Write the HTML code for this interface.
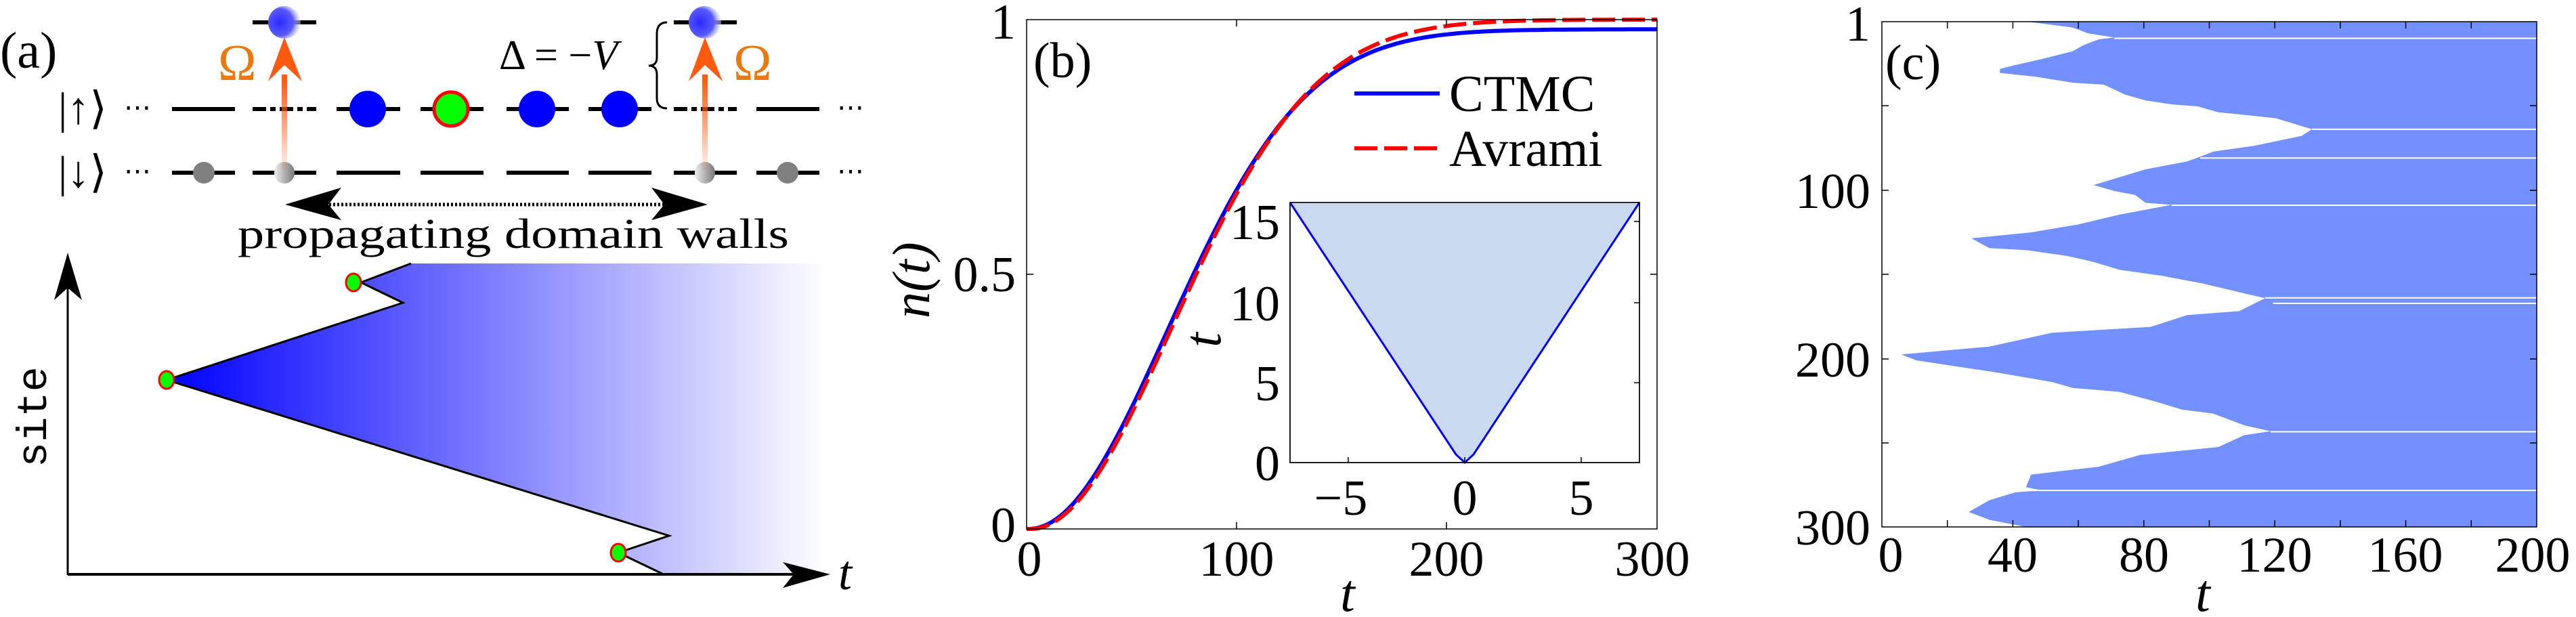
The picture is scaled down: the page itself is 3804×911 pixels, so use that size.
<!DOCTYPE html>
<html><head><meta charset="utf-8"><style>
html,body{margin:0;padding:0;background:#fff;}
svg{display:block;}
</style></head><body>
<svg id="s" width="3804" height="911" viewBox="0 0 3804 911" xmlns="http://www.w3.org/2000/svg" font-family="Liberation Serif, DejaVu Serif, serif">
<defs>
<linearGradient id="gb" x1="246" y1="0" x2="1222" y2="0" gradientUnits="userSpaceOnUse">
<stop offset="0" stop-color="#0000ff"/><stop offset="1" stop-color="#ffffff"/></linearGradient>
<linearGradient id="go" x1="0" y1="118" x2="0" y2="245" gradientUnits="userSpaceOnUse">
<stop offset="0" stop-color="#ff5a10"/><stop offset="1" stop-color="#ff5a10" stop-opacity="0.1"/></linearGradient>
<radialGradient id="gc" cx="0.35" cy="0.5" r="0.7"><stop offset="0" stop-color="#2a2aff"/><stop offset="0.6" stop-color="#5a5aff"/><stop offset="1" stop-color="#ffffff" stop-opacity="0.3"/></radialGradient>
<linearGradient id="gg" x1="0" y1="0" x2="1" y2="0"><stop offset="0" stop-color="#eee"/><stop offset="1" stop-color="#777"/></linearGradient>
</defs>

<!-- ===== Panel (a) ===== -->
<text x="0" y="100" font-size="76">(a)</text>
<g stroke="#000" stroke-width="6">
<line x1="254" y1="161" x2="347" y2="161"/>
<line x1="373" y1="161" x2="467" y2="161" stroke-dasharray="20,6,8,6"/>
<line x1="497" y1="161" x2="591" y2="161"/>
<line x1="621" y1="161" x2="714" y2="161"/>
<line x1="748" y1="161" x2="840" y2="161"/>
<line x1="869" y1="161" x2="962" y2="161"/>
<line x1="995" y1="161" x2="1088" y2="161" stroke-dasharray="20,6,8,6"/>
<line x1="1117" y1="161" x2="1210" y2="161"/>
<line x1="254" y1="255" x2="347" y2="255"/>
<line x1="373" y1="255" x2="467" y2="255"/>
<line x1="497" y1="255" x2="591" y2="255"/>
<line x1="621" y1="255" x2="714" y2="255"/>
<line x1="748" y1="255" x2="840" y2="255"/>
<line x1="869" y1="255" x2="962" y2="255"/>
<line x1="995" y1="255" x2="1088" y2="255"/>
<line x1="1117" y1="255" x2="1210" y2="255"/>
<line x1="373" y1="33" x2="467" y2="33"/>
<line x1="995" y1="33" x2="1088" y2="33"/>
</g>
<text x="183" y="172" font-size="40">⋯</text><text x="1236" y="172" font-size="40">⋯</text>
<text x="183" y="266" font-size="40">⋯</text><text x="1236" y="266" font-size="40">⋯</text>
<text x="86" y="182" font-size="66">|↑⟩</text>
<text x="86" y="276" font-size="66">|↓⟩</text>
<ellipse cx="543" cy="161" rx="27" ry="27" fill="#0000ff"/>
<ellipse cx="666" cy="161" rx="25" ry="25" fill="#00ff00" stroke="#ff0000" stroke-width="5"/>
<ellipse cx="793" cy="161" rx="27" ry="27" fill="#0000ff"/>
<ellipse cx="915" cy="161" rx="27" ry="27" fill="#0000ff"/>
<ellipse cx="301" cy="255" rx="16" ry="16" fill="#808080"/>
<ellipse cx="1163" cy="255" rx="16" ry="16" fill="#808080"/>
<ellipse cx="420" cy="255" rx="15" ry="16" fill="url(#gg)"/>
<ellipse cx="1041" cy="255" rx="15" ry="16" fill="url(#gg)"/>
<rect x="416" y="110" width="8" height="140" fill="url(#go)"/>
<rect x="1037" y="110" width="8" height="140" fill="url(#go)"/>
<polygon points="420,55 446,120 420,96 396,120" fill="#ff5a10"/>
<polygon points="1041,55 1067,120 1041,96 1017,120" fill="#ff5a10"/>
<ellipse cx="420" cy="33" rx="24" ry="24" fill="url(#gc)"/>
<ellipse cx="1041" cy="33" rx="24" ry="24" fill="url(#gc)"/>
<text x="322" y="118" font-size="76" fill="#e87a10">Ω</text>
<text x="1083" y="118" font-size="76" fill="#e87a10">Ω</text>
<text x="737" y="102" font-size="62">Δ = −<tspan font-style="italic">V</tspan></text>
<path d="M985,33 Q970,33 970,50 L970,85 Q970,97 958,97 Q970,97 970,110 L970,145 Q970,160 985,160" fill="none" stroke="#000" stroke-width="3"/>
<line x1="480" y1="302" x2="990" y2="302" stroke="#000" stroke-width="5" stroke-dasharray="3,3"/>
<polygon points="421,302 504,277 485,302 504,325" fill="#000"/>
<polygon points="1045,302 962,277 981,302 962,325" fill="#000"/>
<text x="351" y="366" font-size="62" textLength="814" lengthAdjust="spacingAndGlyphs">propagating domain walls</text>
<polygon points="607,389 533,417 595,447 246,561 988,791 913,816 982,849 1222,849 1222,389" fill="url(#gb)"/>
<polyline points="607,389 533,417 595,447 246,561 988,791 913,816 982,849" fill="none" stroke="#000" stroke-width="3"/>
<line x1="100" y1="849" x2="100" y2="420" stroke="#000" stroke-width="3"/>
<polygon points="100,373 121,443 100,425 80,443" fill="#000"/>
<line x1="100" y1="848" x2="1180" y2="848" stroke="#000" stroke-width="4"/>
<polygon points="1226,848 1156,830 1172,848 1156,868" fill="#000"/>
<text x="1238" y="870" font-size="72" font-style="italic">t</text>
<text transform="translate(68,690) rotate(-90)" font-size="62" font-family="Liberation Mono, monospace">site</text>
<ellipse cx="522" cy="417" rx="11" ry="13" fill="#00ff00" stroke="#ff0000" stroke-width="3"/>
<ellipse cx="246" cy="561" rx="11" ry="13" fill="#00ff00" stroke="#ff0000" stroke-width="3"/>
<ellipse cx="913" cy="816" rx="11" ry="13" fill="#00ff00" stroke="#ff0000" stroke-width="3"/>

<!-- ===== Panel (b) ===== -->
<g id="pb"></g>
<rect x="1516" y="29" width="931" height="752" fill="none" stroke="#000" stroke-width="1.5"/>
<g stroke="#000" stroke-width="1.5">
<line x1="1826" y1="781" x2="1826" y2="771"/><line x1="2136" y1="781" x2="2136" y2="771"/>
<line x1="1826" y1="29" x2="1826" y2="39"/><line x1="2136" y1="29" x2="2136" y2="39"/>
<line x1="1516" y1="405" x2="1526" y2="405"/><line x1="2447" y1="405" x2="2437" y2="405"/>
</g>
<g font-size="74" text-anchor="middle">
<text x="1520" y="850">0</text><text x="1826" y="850">100</text><text x="2136" y="850">200</text><text x="2440" y="850">300</text>
</g>
<g font-size="74" text-anchor="end">
<text x="1500" y="57">1</text><text x="1500" y="430">0.5</text><text x="1500" y="800">0</text>
</g>
<text x="1990" y="902" font-size="78" font-style="italic" text-anchor="middle">t</text>
<text transform="translate(1372,470) rotate(-90)" font-size="78" font-style="italic">n(t)</text>
<text x="1526" y="114" font-size="74">(b)</text>
<line x1="2000" y1="138" x2="2126" y2="138" stroke="#0000ff" stroke-width="6"/>
<line x1="2000" y1="219" x2="2126" y2="219" stroke="#ff0000" stroke-width="6" stroke-dasharray="34,10"/>
<text x="2140" y="164" font-size="76">CTMC</text>
<text x="2140" y="245" font-size="76">Avrami</text>
<!-- inset -->
<rect x="1905" y="299" width="516" height="384" fill="#fff" stroke="#000" stroke-width="1.5"/>
<path d="M1905,299 L2150,671 Q2163,690 2176,671 L2421,299 Z" fill="#cad9f0" stroke="none"/>
<polyline points="1905,299 2150,671 2163,683 2176,671 2421,299" fill="none" stroke="#0000ff" stroke-width="3"/>
<rect x="1905" y="299" width="516" height="384" fill="none" stroke="#000" stroke-width="1.5"/>
<g stroke="#000" stroke-width="1.5">
<line x1="1991" y1="683" x2="1991" y2="675"/><line x1="2163" y1="683" x2="2163" y2="675"/><line x1="2335" y1="683" x2="2335" y2="675"/>
<line x1="2421" y1="565" x2="2413" y2="565"/><line x1="2421" y1="447" x2="2413" y2="447"/><line x1="2421" y1="327" x2="2413" y2="327"/>
</g>
<g font-size="74" text-anchor="end">
<text x="1890" y="709">0</text><text x="1890" y="591">5</text><text x="1890" y="473">10</text><text x="1890" y="353">15</text>
</g>
<g font-size="74" text-anchor="middle">
<text x="1980" y="760">−5</text><text x="2163" y="760">0</text><text x="2335" y="760">5</text>
</g>
<text transform="translate(1802,502) rotate(-90)" font-size="78" font-style="italic" text-anchor="middle">t</text>

<!-- ===== Panel (c) ===== -->
<rect x="2779" y="32" width="967" height="746" fill="#7390ff"/>
<g transform="translate(2600,0) scale(0.768,0.5815)">
<polygon fill="#fff" points="233,55 513,55 600,70 630,85 680,95 650,100 620,115 600,130 540,150 490,165 460,175 460,185 530,195 600,210 660,215 700,240 740,255 790,265 840,270 880,285 990,300 1040,320 1060,328 1040,345 950,370 870,385 845,398 820,410 740,430 690,450 640,470 680,485 720,495 740,515 790,520 690,545 610,570 520,590 405,605 440,630 510,635 590,650 640,665 690,685 770,700 850,720 930,745 970,757 920,790 820,800 750,830 560,845 440,880 270,900 300,915 400,935 450,945 560,970 600,985 690,995 760,1020 810,1040 870,1050 930,1080 980,1095 930,1105 880,1135 730,1155 650,1185 520,1205 510,1237 540,1245 490,1250 440,1270 400,1300 440,1320 510,1338 233,1338"/>
<g fill="#fff">
<rect x="680" y="95.5" width="812" height="3.5"/>
<rect x="1060" y="326.5" width="432" height="3.5"/>
<rect x="845" y="399.5" width="647" height="3.5"/>
<rect x="790" y="519.5" width="702" height="3.5"/>
<rect x="970" y="754.5" width="522" height="3.5"/>
<rect x="985" y="768.5" width="507" height="3.5"/>
<rect x="980" y="1094.5" width="512" height="3.5"/>
<rect x="510" y="1243.5" width="982" height="3.5"/>
</g>
</g>
<rect x="2779" y="32" width="967" height="746" fill="none" stroke="#000" stroke-width="1.5"/>
<g stroke="#000" stroke-width="1.5" id="ct"></g>
<g font-size="74" text-anchor="end">
<text x="2762" y="60">1</text><text x="2762" y="307">100</text><text x="2762" y="556">200</text><text x="2762" y="804">300</text>
</g>
<g font-size="74" text-anchor="middle">
<text x="2792" y="844">0</text><text x="2972" y="844">40</text><text x="3166" y="844">80</text><text x="3359" y="844">120</text><text x="3552" y="844">160</text><text x="3740" y="844">200</text>
</g>
<text x="3253" y="902" font-size="78" font-style="italic" text-anchor="middle">t</text>
<text x="2784" y="117" font-size="74">(c)</text>
</svg>
<script>
(function(){
var ns="http://www.w3.org/2000/svg";
function X(t){return 1516+t*931/300;}function Y(n){return 781-n*752;}
var b="",r="";
for(var t=0;t<=300;t+=2){
 var tb=Math.max(0,t-1);var nb=0.981*(1-Math.exp(-1.16e-4*tb*tb));
 var td=Math.max(0,t-2);var nr=1-Math.exp(-1.12e-4*td*td);
 b+=(t?"L":"M")+X(t).toFixed(1)+","+Y(nb).toFixed(1);
 r+=(t?"L":"M")+X(t).toFixed(1)+","+Y(nr).toFixed(1);
}
var g=document.getElementById("pb");
var p1=document.createElementNS(ns,"path");p1.setAttribute("d",b);p1.setAttribute("fill","none");p1.setAttribute("stroke","#0000ff");p1.setAttribute("stroke-width","6");g.appendChild(p1);
var p2=document.createElementNS(ns,"path");p2.setAttribute("d",r);p2.setAttribute("fill","none");p2.setAttribute("stroke","#ff0000");p2.setAttribute("stroke-width","6");p2.setAttribute("stroke-dasharray","34,10");g.appendChild(p2);
var ct=document.getElementById("ct");
function ln(a,b2,c,d){var l=document.createElementNS(ns,"line");l.setAttribute("x1",a);l.setAttribute("y1",b2);l.setAttribute("x2",c);l.setAttribute("y2",d);ct.appendChild(l);}
for(var i=1;i<10;i++){var x=2779+i*96.7;ln(x,778,x,768);ln(x,32,x,42);}
[281,530,156,405,654].forEach(function(y){ln(2779,y,2789,y);ln(3746,y,3736,y);});
})();
</script>
</body></html>
